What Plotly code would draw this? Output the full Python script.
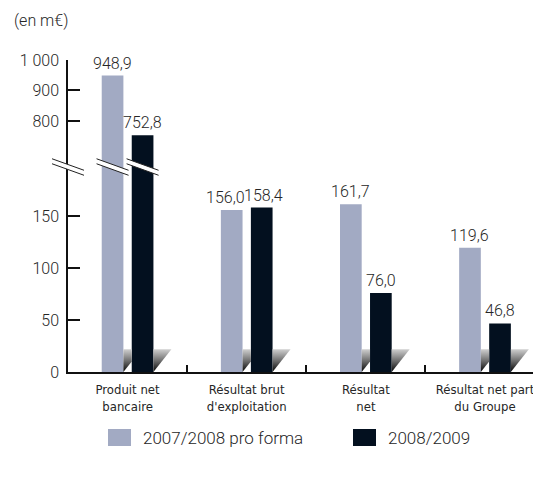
import plotly.graph_objects as go

# ---------------- data ----------------
categories = ["Produit net<br>bancaire", "Résultat brut<br>d'exploitation",
              "Résultat<br>net", "Résultat net part<br>du Groupe"]
series_names = ["2007/2008 pro forma", "2008/2009"]
values_0708 = [948.9, 156.0, 161.7, 119.6]
values_0809 = [752.8, 158.4, 76.0, 46.8]
lower_ticks = [0, 50, 100, 150]
upper_ticks = [800, 900, 1000]
upper_tick_labels = ["800", "900", "1 000"]
unit_label = "(en m€)"

# ---------------- style ----------------
OFF = 8                       # page body margin
W, H = 541 - OFF, 477 - OFF
ML, MT = 68 - OFF, 60 - OFF
PB = 372 - OFF                # plot bottom (figure px)
MR, MB = 0, H - PB
PW, PH = W - ML - MR, H - MT - MB
X0, X1 = -0.5, 3.47
LOW_MAX = 197.5
UP_MIN = 649
SPLIT = 0.657
COL_LIGHT = "#a2aac3"
COL_DARK = "#03101f"
TXT = "#262626"
BAR_W = 0.182
OFFS = [-0.217, 0.035]
COLS = [COL_LIGHT, COL_DARK]
SH_H = 22.0
SH_W = 0.151
VAL_FONT = dict(family="Roboto, Lato, sans-serif", size=16, color=TXT, weight=300)
CAT_FONT = dict(family="Liberation Sans Narrow, DejaVu Sans Condensed, sans-serif", size=13, color=TXT)
TICK_FONT = dict(family="Roboto, sans-serif", size=16, color=TXT, weight=300)

def fr(v):
    return f"{v:.1f}".replace(".", ",")

def xp(x):
    return (x - X0) / (X1 - X0)

def px_x(px):   # reference pixel x -> paper
    return (px - OFF - ML) / PW

def px_y(py):   # reference pixel y -> paper
    return (PB - (py - OFF)) / PH

series = [values_0708, values_0809]
idx = list(range(len(categories)))

fig = go.Figure()

gap = OFFS[1] - (OFFS[0] + BAR_W)
for k in idx:
    for s in range(2):
        r = k + OFFS[s] + BAR_W
        if s == 0:
            xs = [r, r, r + gap, r + gap, r]
            ys = [0, SH_H, SH_H, SH_H * gap / SH_W, 0]
        else:
            xs = [r, r, r + SH_W, r]
            ys = [0, SH_H, SH_H, 0]
        fig.add_trace(go.Scatter(
            x=xs, y=ys, mode="lines", line=dict(width=0), fill="toself",
            fillgradient=dict(type="vertical",
                              colorscale=[[0, "#050505"], [0.5, "#707070"], [1, "#d0d0d0"]],
                              start=0, stop=SH_H),
            hoverinfo="skip", showlegend=False, xaxis="x", yaxis="y"))

for s in range(2):
    fig.add_trace(go.Bar(
        x=idx, y=series[s], offset=OFFS[s], width=BAR_W,
        marker=dict(color=COLS[s], line=dict(width=0)),
        name=series_names[s], showlegend=False, xaxis="x", yaxis="y"))
    up_x = [k for k in idx if series[s][k] > LOW_MAX]
    up_y = [series[s][k] for k in up_x]
    fig.add_trace(go.Bar(
        x=up_x, y=up_y, offset=OFFS[s], width=BAR_W,
        marker=dict(color=COLS[s], line=dict(width=0)),
        name=series_names[s], showlegend=False, xaxis="x", yaxis="y2"))

annotations = []
for k in idx:
    a, b = series[0][k], series[1][k]
    close = (a <= LOW_MAX and b <= LOW_MAX and abs(a - b) < 15)
    for s in range(2):
        v = series[s][k]
        xs = 0
        if close:
            xs = -6 if s == 0 else 2
        annotations.append(dict(
            x=k + OFFS[s] + BAR_W / 2, y=v, xref="x",
            yref="y2" if v > LOW_MAX else "y",
            text=fr(v), showarrow=False, yanchor="bottom", xanchor="center",
            yshift=1, xshift=xs, font=VAL_FONT))

annotations.append(dict(x=px_x(12), y=px_y(20), xref="paper", yref="paper",
                        text=unit_label, showarrow=False, xanchor="left", yanchor="middle",
                        font=dict(family="Roboto, sans-serif", size=16, color=TXT, weight=300)))

shapes = []
leg = [(108, 131, 141), (353, 376, 386)]
for s in range(2):
    a, b, t = leg[s]
    shapes.append(dict(type="rect", xref="paper", yref="paper",
                       x0=px_x(a), x1=px_x(b), y0=px_y(446), y1=px_y(429),
                       fillcolor=COLS[s], line=dict(width=0)))
    annotations.append(dict(x=px_x(t), y=px_y(438), xref="paper", yref="paper",
                            text=series_names[s], showarrow=False, xanchor="left",
                            yanchor="middle",
                            font=dict(family="Roboto, sans-serif", size=17, color=TXT, weight=300)))

def add_break(xc_paper, half_px=16, slope=0.36, gap_px=5):
    dx = half_px / PW
    dy = half_px * slope / PH
    g = gap_px / 2 / PH
    x1, x2 = xc_paper - dx, xc_paper + dx
    y1, y2 = SPLIT + dy, SPLIT - dy
    shapes.append(dict(type="path", xref="paper", yref="paper",
                       path=f"M {x1},{y1 + g} L {x2},{y2 + g} L {x2},{y2 - g} L {x1},{y1 - g} Z",
                       fillcolor="white", line=dict(width=0)))
    for sg in (1, -1):
        shapes.append(dict(type="line", xref="paper", yref="paper",
                           x0=x1, y0=y1 + sg * g, x1=x2, y1=y2 + sg * g,
                           line=dict(color="#222", width=1)))

add_break(0.0)
for s in range(2):
    for k in idx:
        if series[s][k] > LOW_MAX:
            add_break(xp(k + OFFS[s] + BAR_W / 2))

fig.update_layout(
    width=W, height=H, margin=dict(l=ML, r=MR, t=MT, b=MB),
    paper_bgcolor="white", plot_bgcolor="white", barmode="overlay",
    showlegend=False, annotations=annotations, shapes=shapes,
    xaxis=dict(range=[X0, X1], tickvals=idx, ticktext=categories, ticks="",
               showline=True, linecolor="#111", linewidth=1.5, showgrid=False,
               zeroline=False, tickfont=CAT_FONT, ticklabelstandoff=5,
               minor=dict(tickvals=[0.5, 1.5, 2.5], ticks="inside", ticklen=7,
                          tickcolor="#111", tickwidth=1.5, showgrid=False)),
    yaxis=dict(domain=[0, SPLIT], range=[0, LOW_MAX], tickvals=lower_ticks,
               ticks="inside", ticklen=12, tickcolor="#111", tickwidth=1.5,
               showline=True, linecolor="#111", linewidth=1.5, showgrid=False,
               zeroline=False, ticklabelstandoff=4, tickfont=TICK_FONT),
    yaxis2=dict(domain=[SPLIT, 1], range=[UP_MIN, 1000], tickvals=upper_ticks,
                ticktext=upper_tick_labels, anchor="x",
                ticks="inside", ticklen=12, tickcolor="#111", tickwidth=1.5,
                showline=True, linecolor="#111", linewidth=1.5, showgrid=False,
                zeroline=False, ticklabelstandoff=4, tickfont=TICK_FONT),
)

fig.write_html("out.html")
